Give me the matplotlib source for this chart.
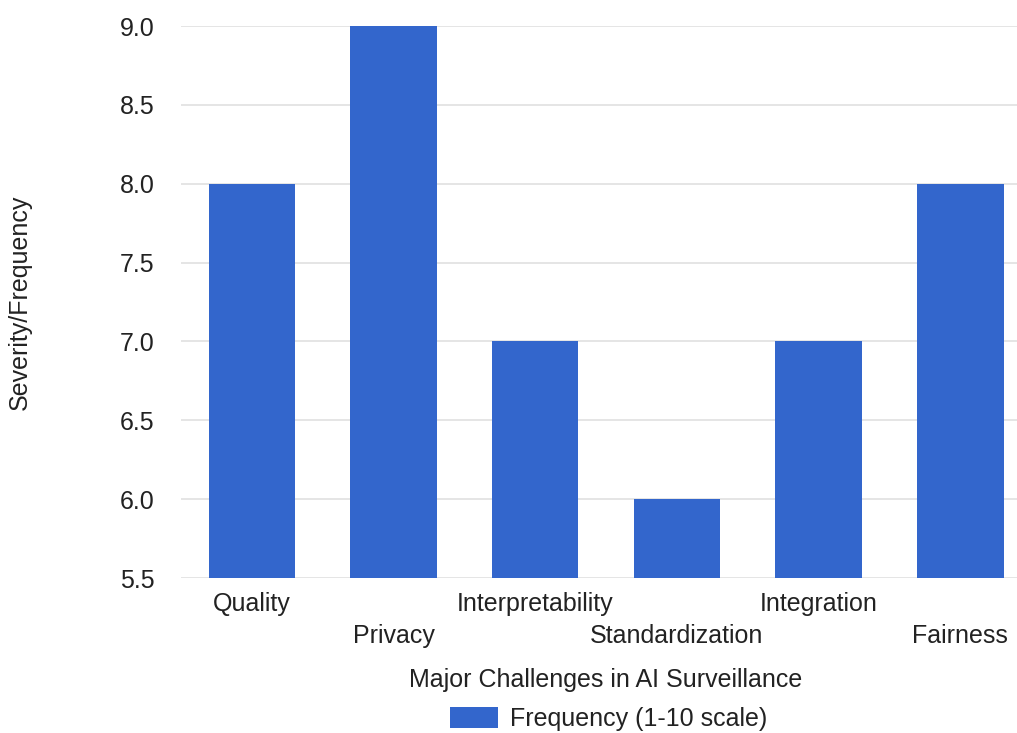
import matplotlib
matplotlib.use("Agg")
import matplotlib.pyplot as plt
from matplotlib.patches import Patch

# challenge categories and their scores
categories = ["Quality", "Privacy", "Interpretability", "Standardization",
              "Integration", "Fairness"]
frequency = [8, 9, 7, 6, 7, 8]
y_ticks = [5.5, 6.0, 6.5, 7.0, 7.5, 8.0, 8.5, 9.0]

bar_color = "#3366cc"
text_color = "#222222"
grid_color = "#e0e0e0"
fs = 18

plt.rcParams["font.family"] = ["Liberation Sans", "DejaVu Sans"]

fig = plt.figure(figsize=(10.17, 7.33), dpi=100)
ax = fig.add_axes([181 / 1017, 1 - 578 / 733, 836 / 1017, 552 / 733])

x = list(range(len(categories)))
ax.bar(x, [v - 5.5 for v in frequency], bottom=5.5, width=0.61,
       color=bar_color, zorder=3)

ax.set_ylim(5.5, 9.0)
ax.set_xlim(-0.5, 5.4)
ax.set_yticks(y_ticks)
ax.set_yticklabels(["%.1f" % t for t in y_ticks], fontsize=fs,
                   color=text_color)
ax.tick_params(axis="y", length=0, pad=19)
ax.grid(axis="y", color=grid_color, linewidth=1.2, zorder=0)
for s in ax.spines.values():
    s.set_visible(False)

# staggered category labels: even ones on the first row, odd ones below
ax.set_xticks(x[0::2])
ax.set_xticklabels(categories[0::2], fontsize=fs, color=text_color)
ax.set_xticks(x[1::2], minor=True)
ax.set_xticklabels(categories[1::2], minor=True, fontsize=fs,
                   color=text_color)
ax.tick_params(axis="x", which="major", length=0, pad=10)
ax.tick_params(axis="x", which="minor", length=0, pad=33)

fig.text(606 / 1017, 1 - 680 / 733, "Major Challenges in AI Surveillance",
         ha="center", va="center", fontsize=fs, color=text_color)
fig.text(20 / 1017, 1 - 302 / 733, "Severity/Frequency", rotation=90,
         ha="center", va="center", fontsize=fs, color=text_color)

handle = Patch(facecolor=bar_color, edgecolor="none")
fig.legend([handle], ["Frequency (1-10 scale)"], loc="center",
           bbox_to_anchor=(609 / 1017, 1 - 719 / 733), frameon=False,
           fontsize=fs, handlelength=1.9, handleheight=0.88,
           handletextpad=0.5, labelcolor=text_color)

fig.savefig("out.png", dpi=100, facecolor="white")
